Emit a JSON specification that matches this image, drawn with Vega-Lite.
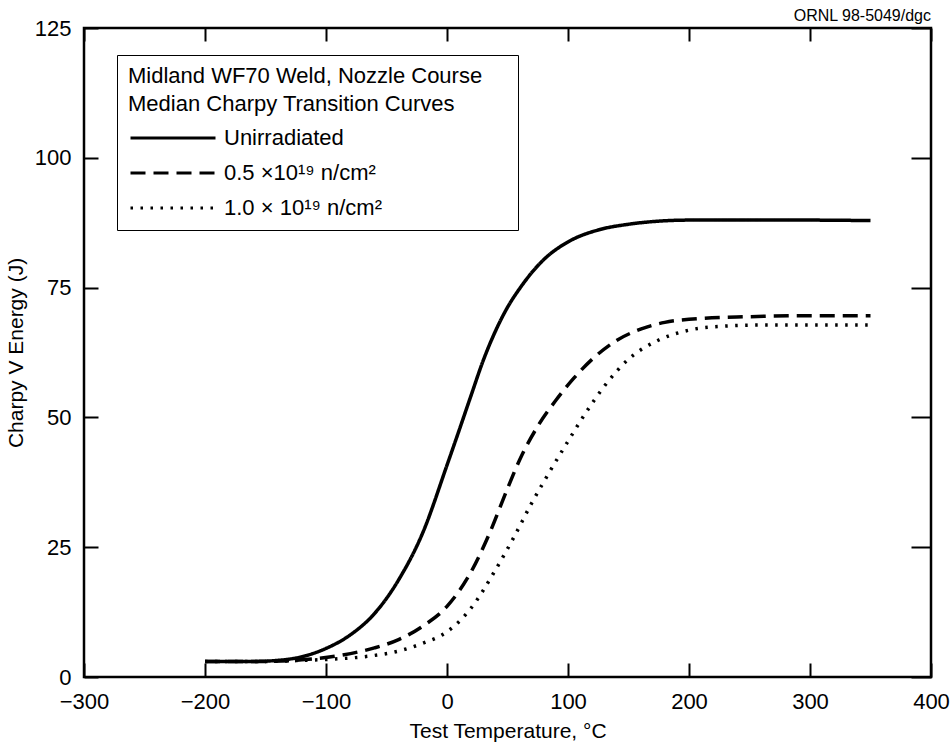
{
  "$schema": "https://vega.github.io/schema/vega-lite/v6.json",
  "width": 847,
  "height": 649,
  "autosize": {"type": "none"},
  "padding": {"left": 84, "top": 28, "right": 21, "bottom": 72},
  "config": {
    "font": "Liberation Sans",
    "view": {"stroke": "black", "strokeWidth": 2.5},
    "axis": {
      "domain": false,
      "grid": false,
      "tickColor": "black",
      "tickWidth": 2,
      "labelColor": "black",
      "titleColor": "black",
      "labelFont": "Liberation Sans",
      "titleFont": "Liberation Sans",
      "labelFontSize": 22,
      "titleFontSize": 21,
      "titleFontWeight": "normal"
    }
  },
  "title": {
    "text": "ORNL 98-5049/dgc",
    "anchor": "end",
    "frame": "group",
    "fontSize": 16,
    "fontWeight": "normal",
    "color": "black",
    "offset": -7
  },
  "data": {
    "values": [
      {"s": "Unirradiated", "T": -200, "E": 3.0},
      {"s": "Unirradiated", "T": -160, "E": 3.0},
      {"s": "Unirradiated", "T": -140, "E": 3.2},
      {"s": "Unirradiated", "T": -120, "E": 3.9},
      {"s": "Unirradiated", "T": -100, "E": 5.5},
      {"s": "Unirradiated", "T": -80, "E": 8.1},
      {"s": "Unirradiated", "T": -60, "E": 12.2},
      {"s": "Unirradiated", "T": -40, "E": 18.7},
      {"s": "Unirradiated", "T": -20, "E": 27.8},
      {"s": "Unirradiated", "T": 0, "E": 40.8},
      {"s": "Unirradiated", "T": 10, "E": 47.5},
      {"s": "Unirradiated", "T": 20, "E": 54.3},
      {"s": "Unirradiated", "T": 30, "E": 61.0},
      {"s": "Unirradiated", "T": 40, "E": 66.6},
      {"s": "Unirradiated", "T": 50, "E": 71.2},
      {"s": "Unirradiated", "T": 60, "E": 74.8},
      {"s": "Unirradiated", "T": 80, "E": 80.4},
      {"s": "Unirradiated", "T": 100, "E": 83.8},
      {"s": "Unirradiated", "T": 125, "E": 86.1},
      {"s": "Unirradiated", "T": 150, "E": 87.2},
      {"s": "Unirradiated", "T": 175, "E": 87.8},
      {"s": "Unirradiated", "T": 200, "E": 88.0},
      {"s": "Unirradiated", "T": 250, "E": 88.0},
      {"s": "Unirradiated", "T": 300, "E": 88.0},
      {"s": "Unirradiated", "T": 350, "E": 87.9},

      {"s": "0.5 ×10¹⁹ n/cm²", "T": -200, "E": 3.0},
      {"s": "0.5 ×10¹⁹ n/cm²", "T": -150, "E": 3.0},
      {"s": "0.5 ×10¹⁹ n/cm²", "T": -120, "E": 3.3},
      {"s": "0.5 ×10¹⁹ n/cm²", "T": -90, "E": 4.1},
      {"s": "0.5 ×10¹⁹ n/cm²", "T": -60, "E": 5.6},
      {"s": "0.5 ×10¹⁹ n/cm²", "T": -40, "E": 7.2},
      {"s": "0.5 ×10¹⁹ n/cm²", "T": -20, "E": 9.8},
      {"s": "0.5 ×10¹⁹ n/cm²", "T": 0, "E": 13.6},
      {"s": "0.5 ×10¹⁹ n/cm²", "T": 20, "E": 20.3},
      {"s": "0.5 ×10¹⁹ n/cm²", "T": 35, "E": 27.6},
      {"s": "0.5 ×10¹⁹ n/cm²", "T": 50, "E": 36.3},
      {"s": "0.5 ×10¹⁹ n/cm²", "T": 60, "E": 41.8},
      {"s": "0.5 ×10¹⁹ n/cm²", "T": 75, "E": 48.3},
      {"s": "0.5 ×10¹⁹ n/cm²", "T": 90, "E": 53.3},
      {"s": "0.5 ×10¹⁹ n/cm²", "T": 105, "E": 57.6},
      {"s": "0.5 ×10¹⁹ n/cm²", "T": 120, "E": 61.2},
      {"s": "0.5 ×10¹⁹ n/cm²", "T": 140, "E": 64.8},
      {"s": "0.5 ×10¹⁹ n/cm²", "T": 160, "E": 67.0},
      {"s": "0.5 ×10¹⁹ n/cm²", "T": 180, "E": 68.3},
      {"s": "0.5 ×10¹⁹ n/cm²", "T": 200, "E": 68.9},
      {"s": "0.5 ×10¹⁹ n/cm²", "T": 250, "E": 69.4},
      {"s": "0.5 ×10¹⁹ n/cm²", "T": 300, "E": 69.6},
      {"s": "0.5 ×10¹⁹ n/cm²", "T": 350, "E": 69.6},

      {"s": "1.0 × 10¹⁹ n/cm²", "T": -200, "E": 3.0},
      {"s": "1.0 × 10¹⁹ n/cm²", "T": -150, "E": 3.0},
      {"s": "1.0 × 10¹⁹ n/cm²", "T": -120, "E": 3.2},
      {"s": "1.0 × 10¹⁹ n/cm²", "T": -90, "E": 3.5},
      {"s": "1.0 × 10¹⁹ n/cm²", "T": -65, "E": 4.0},
      {"s": "1.0 × 10¹⁹ n/cm²", "T": -40, "E": 5.0},
      {"s": "1.0 × 10¹⁹ n/cm²", "T": -20, "E": 6.5},
      {"s": "1.0 × 10¹⁹ n/cm²", "T": 0, "E": 8.7},
      {"s": "1.0 × 10¹⁹ n/cm²", "T": 20, "E": 13.3},
      {"s": "1.0 × 10¹⁹ n/cm²", "T": 40, "E": 20.6},
      {"s": "1.0 × 10¹⁹ n/cm²", "T": 55, "E": 26.8},
      {"s": "1.0 × 10¹⁹ n/cm²", "T": 70, "E": 33.5},
      {"s": "1.0 × 10¹⁹ n/cm²", "T": 85, "E": 39.6},
      {"s": "1.0 × 10¹⁹ n/cm²", "T": 100, "E": 45.4},
      {"s": "1.0 × 10¹⁹ n/cm²", "T": 115, "E": 51.0},
      {"s": "1.0 × 10¹⁹ n/cm²", "T": 130, "E": 56.0},
      {"s": "1.0 × 10¹⁹ n/cm²", "T": 150, "E": 61.2},
      {"s": "1.0 × 10¹⁹ n/cm²", "T": 175, "E": 64.9},
      {"s": "1.0 × 10¹⁹ n/cm²", "T": 200, "E": 66.8},
      {"s": "1.0 × 10¹⁹ n/cm²", "T": 230, "E": 67.6},
      {"s": "1.0 × 10¹⁹ n/cm²", "T": 260, "E": 67.8},
      {"s": "1.0 × 10¹⁹ n/cm²", "T": 300, "E": 67.8},
      {"s": "1.0 × 10¹⁹ n/cm²", "T": 350, "E": 67.8}
    ]
  },
  "layer": [
    {
      "mark": {"type": "line", "color": "black", "strokeWidth": 3.5, "interpolate": "monotone"},
      "encoding": {
        "x": {
          "field": "T", "type": "quantitative",
          "scale": {"domain": [-300, 400], "nice": false, "zero": false},
          "axis": {
            "orient": "bottom",
            "title": "Test Temperature, °C",
            "values": [-300, -200, -100, 0, 100, 200, 300, 400],
            "tickSize": -14,
            "labelPadding": 28,
            "titlePadding": 8,
            "labelFlush": false
          }
        },
        "y": {
          "field": "E", "type": "quantitative",
          "scale": {"domain": [0, 125], "nice": false},
          "axis": {
            "orient": "left",
            "title": "Charpy V Energy (J)",
            "values": [0, 25, 50, 75, 100, 125],
            "tickSize": -14,
            "labelPadding": 27,
            "titlePadding": 8,
            "labelFlush": false
          }
        },
        "strokeDash": {
          "field": "s", "type": "nominal",
          "scale": {
            "domain": ["Unirradiated", "0.5 ×10¹⁹ n/cm²", "1.0 × 10¹⁹ n/cm²"],
            "range": [[1, 0], [15, 8], [2.5, 7.5]]
          },
          "legend": {
            "orient": "none",
            "legendX": 33,
            "legendY": 27,
            "title": ["Midland WF70 Weld, Nozzle Course\u00a0\u00a0\u00a0\u00a0\u200b", "Median Charpy Transition Curves"],
            "titleFontSize": 22,
            "titleFontWeight": "normal",
            "titleColor": "black",
            "titleLineHeight": 28,
            "titlePadding": 11,
            "titleLimit": 600,
            "labelFontSize": 22,
            "labelColor": "black",
            "labelLimit": 600,
            "labelOffset": 74,
            "symbolType": "M-1,0H9",
            "symbolSize": 289,
            "symbolStrokeWidth": 3,
            "symbolStrokeColor": "black",
            "rowPadding": 13,
            "padding": 11,
            "strokeColor": "black",
            "fillColor": "white"
          }
        }
      }
    },
    {
      "mark": {"type": "point", "opacity": 0},
      "encoding": {
        "x": {
          "field": "T", "type": "quantitative",
          "axis": {
            "orient": "top", "title": null, "labels": false,
            "values": [-300, -200, -100, 0, 100, 200, 300, 400],
            "tickSize": -13
          }
        },
        "y": {
          "field": "E", "type": "quantitative",
          "axis": {
            "orient": "right", "title": null, "labels": false,
            "values": [0, 25, 50, 75, 100, 125],
            "tickSize": -20
          }
        }
      }
    }
  ],
  "resolve": {"axis": {"x": "independent", "y": "independent"}}
}
